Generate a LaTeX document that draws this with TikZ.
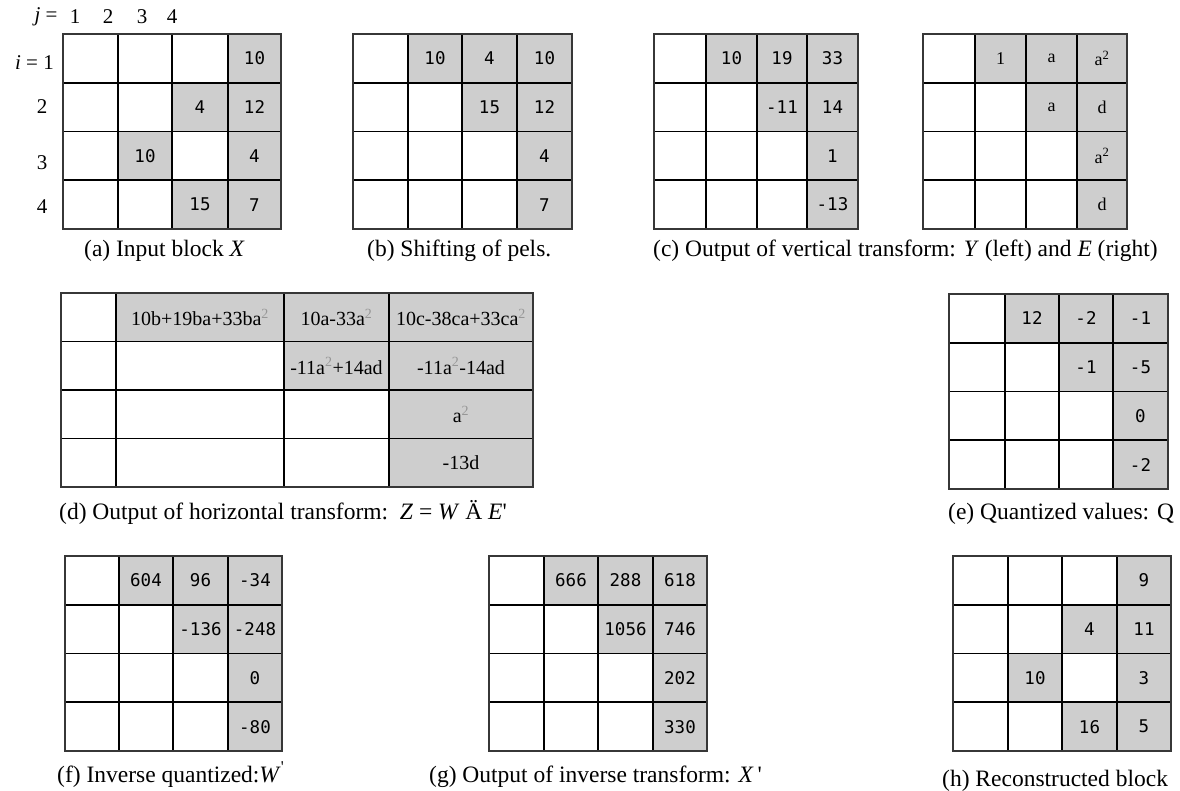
\documentclass[tikz,border=0pt]{standalone}
\usepackage{fontspec}
\setmainfont{Liberation Serif}
\newfontfamily\numfont{DejaVu Sans Mono}
\definecolor{cellgray}{RGB}{206,206,206}
\definecolor{supgray}{RGB}{150,150,150}
\definecolor{edgegray}{RGB}{55,55,55}
\newcommand\sq{\textsuperscript{\textcolor{supgray}{2}}}
\newcommand\cfont{\numfont\fontsize{17.5}{20}\selectfont}
\newcommand\efont{\fontsize{18}{20}\selectfont}
\newcommand\dfont{\fontsize{20}{22}\selectfont}
\newcommand\capfont{\fontsize{23.5}{28}\selectfont}
\tikzset{
  cellbox/.style={fill=cellgray, draw=none, inner sep=0pt, outer sep=0pt, anchor=center},
  gridin/.style={line width=1.8pt, black},
  gridout/.style={line width=2.6pt, edgegray},
  caption/.style={font=\capfont, inner sep=0pt, anchor=base west},
  lab/.style={font=\fontsize{21}{24}\selectfont, inner sep=0pt},
}
\newcommand\Grid[6][\cfont]{%
  \pgfmathsetmacro\gh{(#5-#4)/4}%
  \pgfmathsetlengthmacro\ghl{(#5-#4)/4}%
  \foreach \r/\c/\t in {#6}{%
    \pgfmathtruncatemacro\ci{\c-1}%
    \pgfmathsetmacro\xl{{#3}[\ci]}%
    \pgfmathsetmacro\xr{{#3}[\c]}%
    \pgfmathsetlengthmacro\cwl{\xr-\xl}%
    \pgfmathsetmacro\xm{(\xl+\xr)/2}%
    \pgfmathsetmacro\ym{#4+(\r-0.5)*\gh}%
    \node[cellbox, minimum width=\cwl, minimum height=\ghl, font=#1] (#2-\r-\c) at (\xm,\ym) {\t};
  }%
  \pgfmathsetmacro\xa{{#3}[0]}%
  \pgfmathsetmacro\xb{{#3}[4]}%
  \foreach \i in {1,2,3}{%
    \pgfmathsetmacro\xx{{#3}[\i]}%
    \draw[gridin] (\xx,#4) -- (\xx,#5);
    \pgfmathsetmacro\yy{#4+\i*\gh}%
    \draw[gridin] (\xa,\yy) -- (\xb,\yy);
  }%
  \draw[gridout] (\xa,#4) rectangle (\xb,#5);
}
\begin{document}
\begin{tikzpicture}[x=1pt,y=-1pt]
\fill[white] (0,0) rectangle (1180,790);
\useasboundingbox (0,0) rectangle (1180,790);

% row 1
\Grid{A}{63,118,172,228,281}{34}{229}{1/4/10,2/3/4,2/4/12,3/2/10,3/4/4,4/3/15,4/4/7}
\Grid{B}{353,408,462,517,572}{34}{229}{1/2/10,1/3/4,1/4/10,2/3/15,2/4/12,3/4/4,4/4/7}
\Grid{CY}{654,706,757,807,858}{34}{229}{1/2/10,1/3/19,1/4/33,2/3/-11,2/4/14,3/4/1,4/4/-13}
\Grid[\efont]{CE}{923,975,1026,1077,1127}{34}{229}{1/2/1,1/3/a,1/4/a\textsuperscript{2},2/3/a,2/4/d,3/4/a\textsuperscript{2},4/4/d}

% row 2
\Grid[\dfont]{D}{61,116,284,389,533}{293}{487}{1/2/10b+19ba+33ba\sq,1/3/10a-33a\sq,1/4/10c-38ca+33ca\sq,2/3/-11a\sq+14ad,2/4/-11a\sq-14ad,3/4/a\sq,4/4/-13d}
\Grid{E}{949,1005,1059,1113,1168}{294}{489}{1/2/12,1/3/-2,1/4/-1,2/3/-1,2/4/-5,3/4/0,4/4/-2}

% row 3
\Grid{F}{65,119,173,228,282}{556}{751}{1/2/604,1/3/96,1/4/-34,2/3/-136,2/4/-248,3/4/0,4/4/-80}
\Grid{G}{489,544,598,653,707}{556}{751}{1/2/666,1/3/288,1/4/618,2/3/1056,2/4/746,3/4/202,4/4/330}
\Grid{H}{953,1008,1062,1117,1171}{556}{751}{1/4/9,2/3/4,2/4/11,3/2/10,3/4/3,4/3/16,4/4/5}

% index labels
\node[lab] (jeq) at (46,17) {\textit{j} =};
\node[lab] (j1) at (75,17) {1};
\node[lab] (j2) at (108,17) {2};
\node[lab] (j3) at (142,17) {3};
\node[lab] (j4) at (172,17) {4};
\node[lab, anchor=east] (i1) at (54,63) {\textit{i} = 1};
\node[lab] (i2) at (42,107) {2};
\node[lab] (i3) at (42,163) {3};
\node[lab] (i4) at (42,207) {4};

% captions
\node[caption] (capa) at (84,256) {(a) Input block \textit{X}};
\node[caption] (capb) at (367,256) {(b) Shifting of pels.};
\node[caption] (capc) at (653,256) {(c) Output of vertical transform: \textit{Y} (left) and \textit{E} (right)};
\node[caption] (capd) at (59,519) {(d) Output of horizontal transform:\ \ \textit{Z} = \textit{W} Ä \textit{E}\textquotesingle};
\node[caption] (cape) at (948,519) {(e) Quantized values: Q};
\node[caption] (capf) at (57,782) {(f) Inverse quantized:\textit{W}\textsuperscript{\textquotesingle}};
\node[caption] (capg) at (429,782) {(g) Output of inverse transform: \textit{X}\,\textquotesingle};
\node[caption] (caph) at (942,786) {(h) Reconstructed block};
\end{tikzpicture}
\end{document}
